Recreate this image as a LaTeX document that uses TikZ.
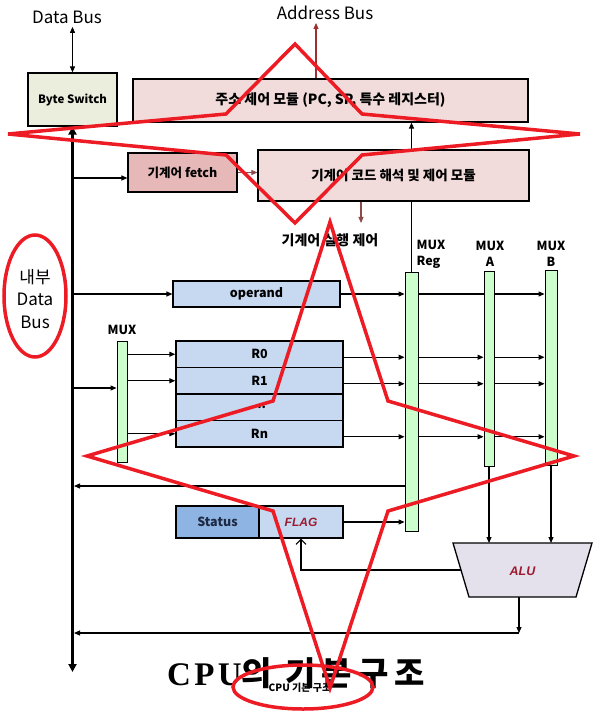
\documentclass[tikz,border=0pt]{standalone}
\usepackage{fontspec}
\setmainfont{Noto Sans CJK KR}
\newfontfamily\serifcpu{Liberation Serif}[LetterSpace=10]
\newfontfamily\titlekr{Noto Sans CJK KR}[LetterSpace=18]
\newfontfamily\latinit{Liberation Sans}
\usetikzlibrary{arrows.meta, positioning, backgrounds}
\definecolor{cpuolive}{HTML}{ECEEDD}
\definecolor{cpupink}{HTML}{F2DCDB}
\definecolor{cpufetch}{HTML}{E6B9B8}
\definecolor{cpublue}{HTML}{C6D9F1}
\definecolor{cpustatus}{HTML}{8DB4E2}
\definecolor{cpugreen}{HTML}{CCFFCC}
\definecolor{cpualu}{HTML}{E4E0EC}
\definecolor{cpuredtxt}{HTML}{9B1B30}
\definecolor{cpunavy}{HTML}{1F2A44}
\definecolor{cpubrown}{HTML}{8C4A4A}
\definecolor{cpuaddr}{HTML}{A0302F}
\definecolor{markred}{HTML}{ED1C24}

\begin{document}
\begin{tikzpicture}[x=1pt, y=-1pt,
    box/.style={draw, fill=#1, line width=1.2pt, inner sep=0pt,
                font=\fontsize{12.5}{14}\selectfont\bfseries},
    regrow/.style={box=cpublue, minimum width=167pt, minimum height=26.5pt, line width=1.4pt},
    muxbar/.style={draw, fill=cpugreen, line width=0.9pt, inner sep=0pt, minimum width=#1},
    muxlbl/.style={font=\fontsize{12.5}{16}\selectfont\bfseries},
    flow/.style={-{Triangle[length=6pt, width=5pt]}, line width=1.1pt},
    redpen/.style={draw=markred, line width=3.5pt},
]
    \useasboundingbox (0,0) rectangle (598,711);

    % boxes
    \node[box=cpuolive, minimum width=89pt, minimum height=53pt,
          font=\fontsize{11.5}{13}\selectfont\bfseries] (bs) at (72.5,99.5) {Byte Switch};
    \node[box=cpupink, minimum width=395pt, minimum height=43pt,
          font=\fontsize{14}{16}\selectfont\bfseries] (addr) at (330.5,100.5) {주소 제어 모듈 (PC, SP, 특수 레지스터)};
    \node[box=cpufetch, minimum width=109pt, minimum height=39pt] (fetch) at (182.5,172.5) {기계어 fetch};
    \node[box=cpupink, minimum width=271pt, minimum height=51pt,
          font=\fontsize{13.5}{16}\selectfont\bfseries] (decode) at (393.5,175.5) {기계어 코드 해석 및 제어 모듈};
    \node[box=cpublue, minimum width=167pt, minimum height=26pt] (operand) at (256.5,294) {operand};
    \node[regrow] (r0) at (259.5,354.25) {R0};
    \node[regrow] (r1) at (259.5,380.75) {R1};
    \node[regrow] (rdots) at (259.5,407.25) {...};
    \node[regrow] (rn) at (259.5,433.75) {Rn};
    \node[box=cpustatus, minimum width=83pt, minimum height=32pt, text=cpunavy] (status) at (217.5,522) {Status};
    \node[box=cpublue, minimum width=84pt, minimum height=32pt, text=cpuredtxt,
          font=\latinit\fontsize{12}{14}\selectfont\bfseries\itshape] (flag) at (301,522) {FLAG};

    % multiplexers
    \node[muxbar=10pt, minimum height=121pt] (muxL) at (122,401.5) {};
    \node[muxbar=13pt, minimum height=259pt] (muxR) at (411.5,401.5) {};
    \node[muxbar=10pt, minimum height=195pt] (muxA) at (489,368.5) {};
    \node[muxbar=12pt, minimum height=195pt] (muxB) at (551,367.5) {};
    \node[muxlbl] (lblL) at (122,330) {MUX};
    \node[muxlbl, align=left] (lblR) at (431,254) {MUX\\Reg};
    \node[muxlbl, align=center] (lblA) at (490,254) {MUX\\A};
    \node[muxlbl, align=center] (lblB) at (551,254) {MUX\\B};

    % ALU
    \filldraw[fill=cpualu, line width=1.3pt] (453,543) -- (592,543) -- (576,597) -- (469,597) -- cycle;
    \node[font=\latinit\fontsize{12.5}{14}\selectfont\bfseries\itshape, text=cpuredtxt] (alu) at (522.5,571) {ALU};
    \coordinate (alutop) at (522.5,543);
    \coordinate (aluin) at (461,570);
    \coordinate (aluout) at (519,597);
    \coordinate (aluret) at (519,633);

    % labels
    \node[font=\fontsize{17}{20}\selectfont] (databus) at (67,17) {Data Bus};
    \node[font=\fontsize{17}{20}\selectfont] (addrbus) at (325,13) {Address Bus};
    \node[font=\fontsize{14}{16}\selectfont\bfseries] (exec) at (330,240) {기계어 실행 제어};
    \node[font=\fontsize{17}{22.5}\selectfont, align=center] (inbus) at (35,299) {내부\\Data\\Bus};

    \coordinate (busend) at (72.5,672);
    \coordinate (abus) at (316,23);
    \coordinate (ctrl) at (361,223);
    \coordinate (fetchin) at ([yshift=-5.5pt]fetch.west);
    \coordinate (muxin) at ([yshift=13.5pt]muxL.west);
    \coordinate (r0out) at ([yshift=-3pt]r0.east);
    \coordinate (r1out) at ([yshift=-3pt]r1.east);
    \coordinate (rnout) at ([yshift=-3pt]rn.east);
    \coordinate (fb) at ([yshift=-84.5pt]muxR.west);

    \begin{scope}[on background layer]
    \draw[{Triangle[length=6pt, width=5pt]}-{Triangle[length=6pt, width=5pt]}, line width=1.1pt] (bs.north) -- (bs.north |- databus.south);
    \draw[flow, cpuaddr] (abus |- addr.north) -- (abus);
    \draw[{Triangle[length=8pt, width=8pt]}-{Triangle[length=8pt, width=8pt]}, line width=2.6pt] (bs.south) -- (busend);
    \draw[flow] (fetchin -| bs.south) -- (fetchin);
    \draw[flow, cpubrown] (fetch.east) -- (fetch.east -| decode.west);
    \draw[flow, cpubrown] (ctrl |- decode.south) -- (ctrl);
    \draw[flow] (muxR.north) -- (muxR.north |- addr.south);
    \draw[flow] (operand.west -| bs.south) -- (operand.west);
    \draw[flow] (muxin -| bs.south) -- (muxin);
    \draw[flow] (r0.west -| muxL.east) -- (r0.west);
    \draw[flow] (r1.west -| muxL.east) -- (r1.west);
    \draw[flow] (rn.west -| muxL.east) -- (rn.west);
    \draw[flow] (operand.east) -- (operand.east -| muxR.west);
    \draw[flow] (operand.east -| muxR.east) -- (operand.east -| muxB.west);
    \draw[flow] (r0out) -- (r0out -| muxR.west);
    \draw[flow] (r0out -| muxR.east) -- (r0out -| muxA.west);
    \draw[flow] (r0out -| muxA.east) -- (r0out -| muxB.west);
    \draw[flow] (r1out) -- (r1out -| muxR.west);
    \draw[flow] (r1out -| muxR.east) -- (r1out -| muxA.west);
    \draw[flow] (r1out -| muxA.east) -- (r1out -| muxB.west);
    \draw[flow] (rnout) -- (rnout -| muxR.west);
    \draw[flow] (rnout -| muxR.east) -- (rnout -| muxA.west);
    \draw[flow] (rnout -| muxA.east) -- (rnout -| muxB.west);
    \draw[flow, shorten >=1.5pt] (fb) -- (fb -| bs.south);
    \draw[flow] (flag.east) -- (flag.east -| muxR.west);
    \draw[flow] (muxA.south) -- (muxA.south |- alutop);
    \draw[flow] (muxB.south) -- (muxB.south |- alutop);
    \draw[-{Straight Barb[length=5pt]}, line width=1.1pt] (aluin) -| (flag.south);
    \draw[flow] (aluout) -- (aluret);
    \draw[flow, shorten >=1.5pt] (aluret) -- (aluret -| bs.south);
    \end{scope}

    % title
    \node[font=\fontsize{10}{12}\selectfont\bfseries] (subcap) at (300,688) {CPU 기본 구조};
    \node[font=\fontsize{33}{35}\selectfont\bfseries] (title) at (296,673) {{\serifcpu\bfseries CPU}{\titlekr\bfseries 의 기본구조}};

    % red marks
    \draw[redpen] (295,44) -- (226,114) -- (8,134) -- (226,155) -- (295,223) -- (362,155) -- (580,134) -- (362,114) -- cycle;
    \draw[redpen] (330,222) -- (388,401) -- (574,456) -- (388,511) -- (330,688) -- (273,511) -- (87,456) -- (273,401) -- cycle;
    \draw[redpen] (35,296) ellipse [x radius=31pt, y radius=61pt];
    \draw[redpen] (303,687) ellipse [x radius=70pt, y radius=22pt];
\end{tikzpicture}
\end{document}
